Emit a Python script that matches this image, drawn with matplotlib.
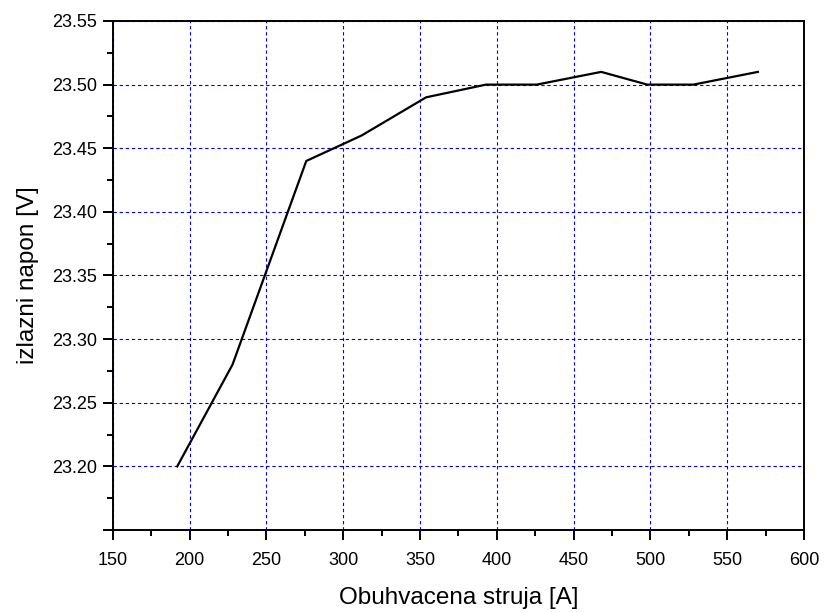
import matplotlib
matplotlib.use('Agg')
import matplotlib.pyplot as plt
from matplotlib.ticker import MultipleLocator, FuncFormatter

# izmjerene vrijednosti
struja = [192, 228, 276, 312, 354, 393, 426, 468, 498, 528, 570]
napon = [23.20, 23.28, 23.44, 23.46, 23.49, 23.50, 23.50, 23.51, 23.50, 23.50, 23.51]

plt.rcParams['font.family'] = ['Liberation Sans', 'DejaVu Sans']

fig = plt.figure(figsize=(8.24, 6.12), dpi=100)
ax = fig.add_axes([0.1368, 0.134, 0.8389, 0.8317])

ax.plot(struja, napon, color='black', linewidth=1.6, zorder=3)

ax.set_xlim(150, 600)
ax.set_ylim(23.15, 23.55)
ax.xaxis.set_major_locator(MultipleLocator(50))
ax.xaxis.set_minor_locator(MultipleLocator(25))
ax.yaxis.set_major_locator(MultipleLocator(0.05))
ax.yaxis.set_minor_locator(MultipleLocator(0.025))
# donja vrijednost 23.15 ostaje bez natpisa
ax.yaxis.set_major_formatter(FuncFormatter(lambda v, p: '' if v < 23.175 else f'{v:.2f}'))

ax.grid(True, which='major', color='#0000ee', linestyle=(0, (3, 2.5)), linewidth=0.8)

for s in ax.spines.values():
    s.set_linewidth(1.4)
ax.tick_params(which='major', direction='out', length=7, width=1.4, labelsize=13, pad=4)
ax.tick_params(which='minor', direction='out', length=4, width=1.4)
ax.tick_params(axis='x', which='major', pad=9)

ax.set_xlabel('Obuhvacena struja [A]', fontsize=17.5, labelpad=13)
ax.set_ylabel('izlazni napon [V]', fontsize=17.5, labelpad=10)

fig.savefig('out.png', dpi=100)
